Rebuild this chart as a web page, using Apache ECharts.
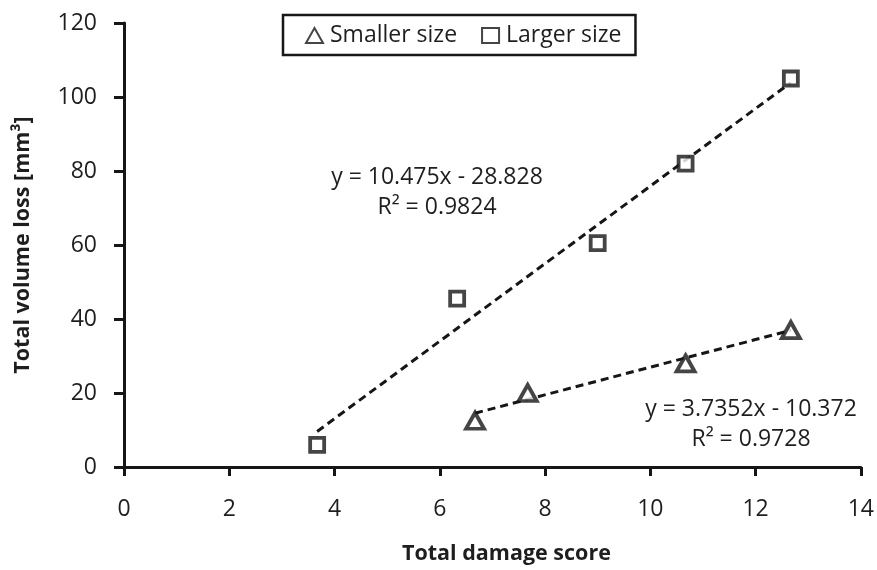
<!DOCTYPE html>
<html>
<head>
<meta charset="utf-8">
<script src="https://cdn.jsdelivr.net/npm/echarts@6/dist/echarts.min.js"></script>
<style>html,body{margin:0;padding:0;background:#fff}#c{width:877px;height:570px}</style>
</head>
<body>
<div id="c"></div>
<script>
const smallerX = [6.67, 7.67, 10.67, 12.67];
const smallerY = [12.5, 20, 28, 37];
const largerX = [3.67, 6.33, 9.0, 10.67, 12.67];
const largerY = [6, 45.5, 60.5, 82, 105];
const smallerFit = { slope: 3.7352, intercept: -10.372, r2: 0.9728 };
const largerFit = { slope: 10.475, intercept: -28.828, r2: 0.9824 };
const xTicks = [0, 2, 4, 6, 8, 10, 12, 14];
const yTicks = [0, 20, 40, 60, 80, 100, 120];
const seriesNames = ['Smaller size', 'Larger size'];
const xTitle = 'Total damage score';
const yTitle = 'Total volume loss [mm³]';

const FONT = 'Open Sans';
const TXT = '#1e1e1e';
const LINE = '#161616';

function pairs(xs, ys) { return xs.map((x, i) => [x, ys[i]]); }
function fitLine(xs, fit) {
  const lo = Math.min(...xs), hi = Math.max(...xs);
  return [[lo, fit.slope * lo + fit.intercept], [hi, fit.slope * hi + fit.intercept]];
}
function eqText(fit) {
  const sign = fit.intercept < 0 ? ' - ' : ' + ';
  return 'y = ' + fit.slope + 'x' + sign + Math.abs(fit.intercept) + '\nR² = ' + fit.r2;
}

const chart = echarts.init(document.getElementById('c'), null, { renderer: 'canvas' });
chart.setOption({
  animation: false,
  backgroundColor: '#fff',
  textStyle: { fontFamily: FONT, color: TXT },
  grid: { left: 124, right: 16, top: 23, bottom: 101.5, containLabel: false },
  legend: {
    data: seriesNames,
    top: 15,
    left: 283,
    padding: [9, 14, 8, 22],
    itemGap: 24,
    itemWidth: 17,
    itemHeight: 15,
    borderColor: LINE,
    borderWidth: 2.5,
    textStyle: { fontFamily: FONT, fontSize: 23, color: TXT, padding: [0, 0, 0, 2] },
  },
  xAxis: {
    type: 'value',
    min: xTicks[0], max: xTicks[xTicks.length - 1], interval: 2,
    name: xTitle, nameLocation: 'middle', nameGap: 76,
    nameTextStyle: { fontFamily: FONT, fontSize: 21.5, fontWeight: 'bold', color: TXT, padding: [0, 0, 0, 28] },
    axisLine: { lineStyle: { color: LINE, width: 3 } },
    axisTick: { show: true, length: 9, lineStyle: { color: LINE, width: 3 } },
    axisLabel: { fontFamily: FONT, fontSize: 23, color: TXT, margin: 31 },
    splitLine: { show: false },
  },
  yAxis: {
    type: 'value',
    min: yTicks[0], max: yTicks[yTicks.length - 1], interval: 20,
    name: yTitle, nameLocation: 'middle', nameGap: 90,
    nameTextStyle: { fontFamily: FONT, fontSize: 21.5, fontWeight: 'bold', color: TXT },
    axisLine: { show: true, lineStyle: { color: LINE, width: 3 } },
    axisTick: { show: true, length: 10, lineStyle: { color: LINE, width: 3 } },
    axisLabel: { fontFamily: FONT, fontSize: 23, color: TXT, margin: 27 },
    splitLine: { show: false },
  },
  series: [
    {
      name: seriesNames[0], type: 'scatter', data: pairs(smallerX, smallerY),
      symbol: 'triangle', symbolSize: [18, 16],
      itemStyle: { color: '#fff', borderColor: LINE, borderWidth: 3.8 }, z: 5,
    },
    {
      name: seriesNames[1], type: 'scatter', data: pairs(largerX, largerY),
      symbol: 'rect', symbolSize: 14,
      itemStyle: { color: '#fff', borderColor: LINE, borderWidth: 3.8 }, z: 5,
    },
    {
      name: 'smallerTrend', type: 'line', data: fitLine(smallerX, smallerFit),
      symbol: 'none', lineStyle: { color: LINE, width: 3, type: [8, 5] }, z: 3,
    },
    {
      name: 'largerTrend', type: 'line', data: fitLine(largerX, largerFit),
      symbol: 'none', lineStyle: { color: LINE, width: 3, type: [8, 5] }, z: 3,
    },
  ],
  graphic: [
    { type: 'text', x: 437, y: 162, style: { text: eqText(largerFit), fontFamily: FONT, fontSize: 23, fill: TXT, align: 'center', verticalAlign: 'top', lineHeight: 30 } },
    { type: 'text', x: 751, y: 394, style: { text: eqText(smallerFit), fontFamily: FONT, fontSize: 23, fill: TXT, align: 'center', verticalAlign: 'top', lineHeight: 30 } },
  ],
});
</script>
</body>
</html>
